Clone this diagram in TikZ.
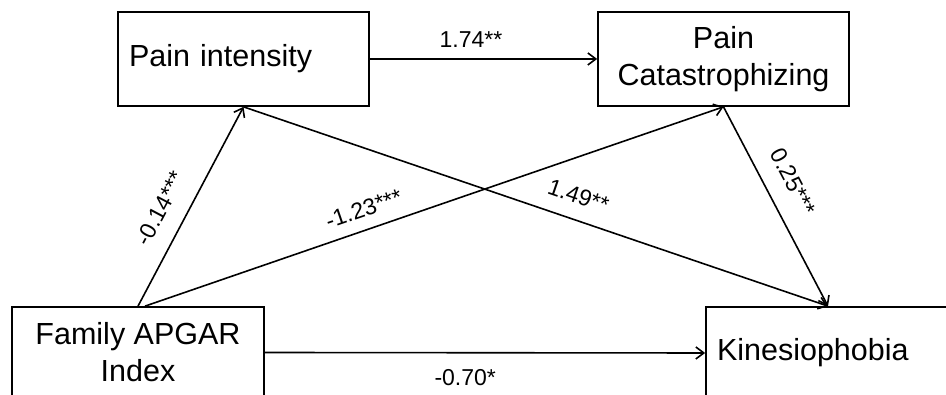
\documentclass[tikz,border=0pt]{standalone}
\usepackage{fontspec}
\setmainfont{Liberation Sans}
\usetikzlibrary{arrows.meta, positioning}

\begin{document}
\begin{tikzpicture}[
    x=1pt, y=1pt,
    % Caixas das variaveis
    var/.style={rectangle, draw=black, line width=1.7pt, align=center, font=\fontsize{30.5}{37}\selectfont, inner sep=0pt},
    varleft/.style={var, align=left, inner xsep=11pt},
    % Setas e coeficientes
    path/.style={-{Straight Barb[length=8pt, width=12pt]}, line width=1.6pt},
    coef/.style={font=\fontsize{23}{26}\selectfont, inner sep=2pt}
]
\useasboundingbox (0,0) rectangle (946,395);
\clip (0,0) rectangle (946,395);

% Variaveis
\node[varleft, text width=229pt, minimum height=94pt] (dor) at (243.5,336) {Pain intensity};
\node[var, minimum width=251pt, minimum height=94pt] (catast) at (723.5,336) {Pain\\Catastrophizing};
\node[var, minimum width=252pt, minimum height=91pt] (apgar) at (138,42.5) {Family APGAR\\Index};
\node[varleft, text width=222pt, minimum height=92pt] (cinesio) at (828,42) {Kinesiophobia};

% Caminhos
\draw[path] (dor.east) -- node[coef, above=9pt, pos=0.445] (c_dc) {1.74**} (catast.west);
\draw[path] (apgar.north) -- node[coef, sloped, above=15pt, pos=0.43] (c_ad) {-0.14***} (dor.south);
\draw[path] ([xshift=7pt]apgar.north) -- node[coef, sloped, above=10pt, pos=0.39] (c_ac) {-1.23***} (catast.south);
\draw[path] (dor.south) -- node[coef, sloped, above=13pt, pos=0.56] (c_dk) {1.49**} (cinesio.north);
\draw[path] (catast.south) -- node[coef, sloped, above=16pt, pos=0.44] (c_ck) {0.25***} (cinesio.north);
\draw[path] (apgar.east) -- node[coef, below=14pt, pos=0.455] (c_ak) {-0.70*} (cinesio.west);

\end{tikzpicture}
\end{document}
